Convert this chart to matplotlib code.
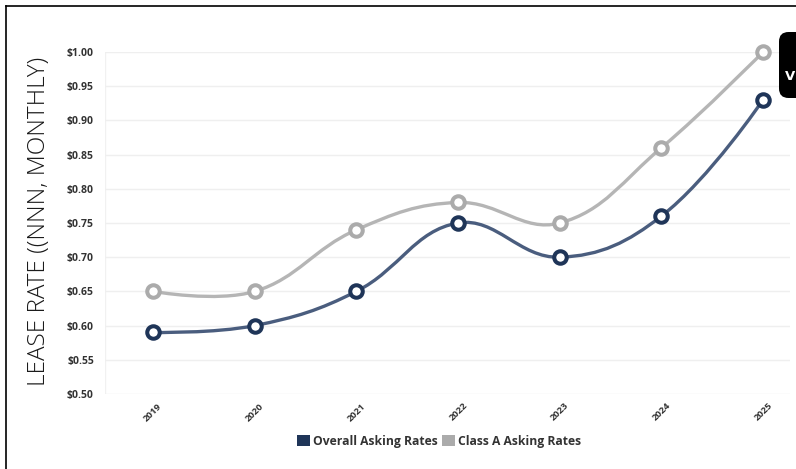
import numpy as np
import matplotlib
matplotlib.use("Agg")
import matplotlib.pyplot as plt
from matplotlib.path import Path
from matplotlib.patches import PathPatch, FancyBboxPatch, Rectangle
from matplotlib.lines import Line2D

years = ["2019", "2020", "2021", "2022", "2023", "2024", "2025"]
overall = [0.59, 0.60, 0.65, 0.75, 0.70, 0.76, 0.93]
class_a = [0.65, 0.65, 0.74, 0.78, 0.75, 0.86, 1.00]
y_ticks = [0.50, 0.55, 0.60, 0.65, 0.70, 0.75, 0.80, 0.85, 0.90, 0.95, 1.00]
series_names = ["Overall Asking Rates", "Class A Asking Rates"]

NAVY_LINE = "#4a5d7e"
NAVY_MARK = "#1f3558"
GRAY_LINE = "#b5b5b5"
GRAY_MARK = "#ababab"
TICK_COLOR = "#333333"

W, H = 796, 469
fig = plt.figure(figsize=(W / 100, H / 100), dpi=100)
fig.patch.set_facecolor("white")


def spline_path(ax, xs, ys, tension=0.4):
    """Cardinal-style Bezier curve through the points, computed in display space."""
    pts = ax.transData.transform(np.column_stack([xs, ys]))
    n = len(pts)
    prev_c = pts.copy()
    next_c = pts.copy()
    for i in range(1, n - 1):
        p0, p1, p2 = pts[i - 1], pts[i], pts[i + 1]
        d01 = np.hypot(*(p1 - p0))
        d12 = np.hypot(*(p2 - p1))
        s01 = d01 / (d01 + d12)
        s12 = d12 / (d01 + d12)
        prev_c[i] = p1 - tension * s01 * (p2 - p0)
        next_c[i] = p1 + tension * s12 * (p2 - p0)
    verts = [pts[0]]
    codes = [Path.MOVETO]
    for i in range(1, n):
        verts += [next_c[i - 1], prev_c[i], pts[i]]
        codes += [Path.CURVE4] * 3
    verts = ax.transData.inverted().transform(np.array(verts))
    return Path(verts, codes)


left, right = 105 / W, 790 / W
bottom, top = 1 - 394 / H, 1 - 52 / H
ax = fig.add_axes([left, bottom, right - left, top - bottom])
ax.set_facecolor("white")

x = np.arange(len(years), dtype=float)
ax.set_xlim(-0.472, 6.265)
ax.set_ylim(0.50, 1.00)

for s in ax.spines.values():
    s.set_visible(False)
ax.axvline(-0.472, color="#f1f1f1", lw=1.0, zorder=0)

ax.set_yticks(y_ticks)
ax.set_yticklabels([f"${v:.2f}" for v in y_ticks])
ax.grid(axis="y", color="#efefef", lw=1.0)
ax.set_axisbelow(True)
ax.tick_params(axis="y", length=0, pad=8, labelsize=7.5, labelcolor=TICK_COLOR)
for lab in ax.get_yticklabels():
    lab.set_fontweight("bold")
    lab.set_family("Open Sans")

ax.set_xticks(x)
ax.set_xticklabels(years)
ax.tick_params(axis="x", length=0, pad=13, labelsize=6.8, labelcolor=TICK_COLOR)
for lab in ax.get_xticklabels():
    lab.set_rotation(45)
    lab.set_fontweight("bold")
    lab.set_family("Open Sans")
    lab.set_ha("center")
    lab.set_va("center")

for vals, lc, mc in [(class_a, GRAY_LINE, GRAY_MARK), (overall, NAVY_LINE, NAVY_MARK)]:
    p = spline_path(ax, x, np.array(vals))
    ax.add_patch(PathPatch(p, fill=False, edgecolor=lc, lw=2.4, capstyle="round",
                           joinstyle="round", clip_on=False, zorder=3))
    ax.plot(x, vals, ls="none", marker="o", ms=9, mfc="white", mec=mc, mew=2.9,
            clip_on=False, zorder=4)

fig.text(39 / W, 1 - 221 / H, "LEASE RATE ((NNN, MONTHLY)", rotation=90,
         ha="center", va="center", fontsize=17.5, family="Open Sans", fontweight="light",
         color="#1a1a1a")

handles = [Rectangle((0, 0), 1, 1, facecolor=NAVY_MARK, edgecolor="none"),
           Rectangle((0, 0), 1, 1, facecolor=GRAY_MARK, edgecolor="none")]
leg = fig.legend(handles, series_names, loc="center", bbox_to_anchor=(439 / W, 1 - 441 / H),
                 ncol=2, frameon=False, handlelength=1.1, handleheight=1.1,
                 handletextpad=0.25, columnspacing=0.3,
                 prop={"family": "Open Sans", "weight": "bold", "size": 8.7})
for t in leg.get_texts():
    t.set_color(TICK_COLOR)

# outer frame
fig.add_artist(Line2D([6 / W, 6 / W], [0, 1 - 6 / H], color="black", lw=1.2))
fig.add_artist(Line2D([6 / W, 1], [1 - 6 / H, 1 - 6 / H], color="black", lw=1.2))

# button at top right edge
fig.add_artist(FancyBboxPatch((779 / W, 1 - 98 / H), 40 / W, 66 / H,
                              boxstyle="round,pad=0,rounding_size=0.012",
                              facecolor="black", edgecolor="none",
                              transform=fig.transFigure, mutation_aspect=W / H))
fig.text(785 / W, 1 - 76 / H, "V", color="white", fontsize=9.5, fontweight="bold",
         ha="left", va="center", family="DejaVu Sans")

fig.savefig("out.png", dpi=100)
